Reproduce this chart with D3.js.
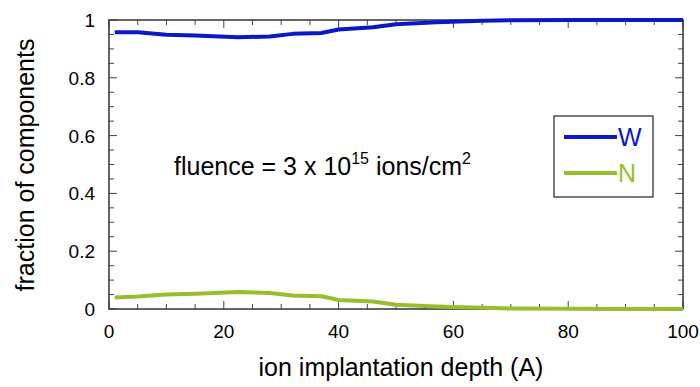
<!DOCTYPE html>
<html>
<head>
<meta charset="utf-8">
<script src="https://cdn.jsdelivr.net/npm/d3@7"></script>
<style>
  body { margin: 0; background: #fff; }
  text { font-family: "Liberation Sans", Arial, sans-serif; }
</style>
</head>
<body>
<script>
// chart size and plot box
var w = 700;
var h = 387;
var margin = {left: 109, right: 17, top: 20, bottom: 78};

// depth values (A)
var depth = [1, 5, 10, 15, 22.5, 28, 32, 37, 40, 46, 50, 57, 65, 70, 80, 90, 100];
// fraction of W
var wFrac = [0.958, 0.958, 0.949, 0.946, 0.940, 0.943, 0.952, 0.955, 0.967, 0.975, 0.985, 0.992, 0.997, 0.999, 1.0, 1.0, 1.0];
// fraction of N
var nFrac = [0.040, 0.043, 0.050, 0.053, 0.059, 0.055, 0.047, 0.044, 0.031, 0.026, 0.015, 0.009, 0.004, 0.002, 0.001, 0.0, 0.0];

var xTicks = [0, 20, 40, 60, 80, 100];
var yTicks = [0, 0.2, 0.4, 0.6, 0.8, 1];
var seriesNames = ["W", "N"];
var seriesColors = ["#0b18c6", "#99bd2c"];

var svg = d3.select("body").append("svg")
  .attr("width", w)
  .attr("height", h);

var x = d3.scaleLinear().domain([0, 100]).range([margin.left, w - margin.right]);
var y = d3.scaleLinear().domain([0, 1]).range([h - margin.bottom, margin.top]);

// minor ticks
var xMinor = d3.range(0, 101, 5);
var yMinor = d3.range(0, 1.0001, 0.05);

function tickLines(g, vals, scale, orient) {
  g.selectAll("line").data(vals).enter().append("line")
    .attr("stroke", "#444")
    .attr("stroke-width", 1)
    .each(function(d) {
      var major = Math.abs(Math.round(d * 1e6) % (orient == "x" ? 20e6 : 0.2e6)) < 1;
      var len = major ? 8 : 5;
      var sel = d3.select(this);
      if (orient == "x") {
        sel.attr("x1", scale(d)).attr("x2", scale(d))
           .attr("y1", y(0)).attr("y2", y(0) - len);
        g.append("line").attr("stroke", "#444")
           .attr("x1", scale(d)).attr("x2", scale(d))
           .attr("y1", y(1)).attr("y2", y(1) + len);
      } else {
        sel.attr("y1", scale(d)).attr("y2", scale(d))
           .attr("x1", x(0)).attr("x2", x(0) + len);
        g.append("line").attr("stroke", "#444")
           .attr("y1", scale(d)).attr("y2", scale(d))
           .attr("x1", x(100)).attr("x2", x(100) - len);
      }
    });
}

var ticksG = svg.append("g");
tickLines(ticksG.append("g"), xMinor, x, "x");
tickLines(ticksG.append("g"), yMinor, y, "y");

// frame
svg.append("rect")
  .attr("x", x(0)).attr("y", y(1))
  .attr("width", x(100) - x(0)).attr("height", y(0) - y(1))
  .attr("fill", "none").attr("stroke", "#333").attr("stroke-width", 1.5);

// tick labels
svg.append("g").selectAll("text").data(xTicks).enter().append("text")
  .attr("x", d => x(d)).attr("y", y(0) + 29)
  .attr("text-anchor", "middle")
  .style("font-size", "19px")
  .text(d => d);

svg.append("g").selectAll("text").data(yTicks).enter().append("text")
  .attr("x", x(0) - 14).attr("y", d => y(d) + 7)
  .attr("text-anchor", "end")
  .style("font-size", "19px")
  .text(d => d);

// axis labels
svg.append("text")
  .attr("x", (x(0) + x(100)) / 2 + 5).attr("y", 376)
  .attr("text-anchor", "middle")
  .style("font-size", "25px")
  .text("ion implantation depth (A)");

svg.append("text")
  .attr("transform", "rotate(-90)")
  .attr("x", -165).attr("y", 34)
  .attr("text-anchor", "middle")
  .style("font-size", "25px")
  .text("fraction of components");

// lines
var line = d3.line()
  .x((d, i) => x(depth[i]))
  .y(d => y(d));

[wFrac, nFrac].forEach(function(s, i) {
  svg.append("path")
    .attr("d", line(s))
    .attr("fill", "none")
    .attr("stroke", seriesColors[i])
    .attr("stroke-width", 4)
    .attr("stroke-linejoin", "round");
});

// annotation
var ann = svg.append("text")
  .attr("x", 174).attr("y", 175)
  .style("font-size", "25px");
ann.append("tspan").text("fluence = 3 x 10");
ann.append("tspan").attr("dy", -11).style("font-size", "16px").text("15");
ann.append("tspan").attr("dy", 11).text(" ions/cm");
ann.append("tspan").attr("dy", -11).style("font-size", "16px").text("2");

// legend
var lg = svg.append("g");
lg.append("rect")
  .attr("x", 554).attr("y", 116).attr("width", 99).attr("height", 81)
  .attr("fill", "#fff").attr("stroke", "#222").attr("stroke-width", 1.2);

var items = lg.selectAll(".item").data(seriesNames).enter().append("g")
  .attr("transform", (d, i) => "translate(0," + (137 + i * 36) + ")");
items.append("line")
  .attr("x1", 564).attr("x2", 617)
  .attr("stroke", (d, i) => seriesColors[i])
  .attr("stroke-width", 4);
items.append("text")
  .attr("x", 618).attr("y", 9)
  .style("font-size", "25px")
  .attr("fill", (d, i) => seriesColors[i])
  .text(d => d);
</script>
</body>
</html>
